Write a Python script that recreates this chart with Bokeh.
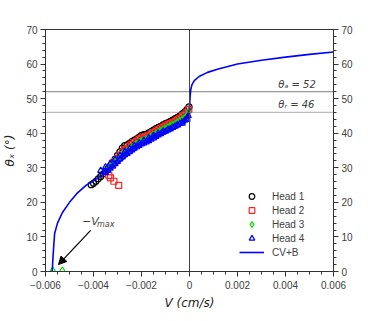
from bokeh.plotting import figure
from bokeh.models import (Range1d, LinearAxis, Span, Label, Arrow, NormalHead,
                          Legend, LegendItem, SingleIntervalTicker, FixedTicker)
from bokeh.embed import file_html
from bokeh.resources import INLINE

# ---------------- data ----------------
h1_x = [-0.00002, -0.0001, -0.0002, -0.0003, -0.0004, -0.0005, -0.0006, -0.0007, -0.0008, -0.0009,
        -0.0010, -0.0011, -0.0012, -0.0013, -0.0014, -0.0015, -0.0016, -0.0017, -0.0018, -0.0019,
        -0.0020, -0.0021, -0.0022, -0.0023, -0.0024, -0.0025, -0.0026, -0.0027, -0.0028, -0.0029,
        -0.0030, -0.0031, -0.0032, -0.0033, -0.0034, -0.0035, -0.0036, -0.0037, -0.0038, -0.0039,
        -0.0040, -0.0041]
h1_y = [47.6, 46.9, 46.2, 45.6, 45.0, 44.6, 44.2, 43.8, 43.4, 43.1,
        42.8, 42.4, 42.0, 41.7, 41.3, 40.9, 40.5, 40.1, 39.7, 39.6,
        39.4, 38.9, 38.4, 38.0, 37.6, 37.1, 36.6, 36.4, 35.7, 34.6,
        33.6, 32.5, 31.5, 30.5, 29.7, 28.9, 28.2, 27.5, 26.8, 26.1,
        25.5, 25.1]

h2_x = [-0.00003, -0.0001, -0.0002, -0.0003, -0.0004, -0.0005, -0.0006, -0.0007, -0.0008, -0.0009,
        -0.0010, -0.0011, -0.0012, -0.0013, -0.0014, -0.0015, -0.0016, -0.0017, -0.0018, -0.0019,
        -0.0020, -0.0021, -0.0022, -0.0023, -0.0024, -0.0025, -0.0026, -0.0027, -0.0028, -0.0029,
        -0.0030, -0.0031, -0.0032, -0.00336, -0.00329, -0.00315, -0.00295]
h2_y = [46.9, 46.0, 45.3, 44.8, 44.3, 43.9, 43.5, 43.1, 42.8, 42.5,
        42.1, 41.8, 41.4, 41.0, 40.6, 40.2, 39.8, 39.4, 39.0, 38.8,
        38.6, 38.2, 37.7, 37.2, 36.8, 36.2, 35.6, 35.2, 34.5, 33.6,
        32.7, 31.8, 31.0, 27.8, 27.1, 26.1, 24.9]

h3_x = [-0.00004, -0.0001, -0.0002, -0.0003, -0.0004, -0.0005, -0.0006, -0.0007, -0.0008, -0.0009,
        -0.0010, -0.0011, -0.0012, -0.0013, -0.0014, -0.0015, -0.0016, -0.0017, -0.0018, -0.0019,
        -0.0020, -0.0021, -0.0022, -0.0023, -0.0024, -0.0025, -0.0026, -0.0027, -0.0028, -0.0029,
        -0.0030, -0.0031, -0.0032, -0.0033, -0.0034, -0.0057, -0.0053]
h3_y = [46.2, 45.2, 44.5, 44.0, 43.6, 43.2, 42.8, 42.4, 42.1, 41.8,
        41.4, 41.1, 40.7, 40.3, 39.9, 39.5, 39.1, 38.7, 38.3, 38.0,
        37.8, 37.4, 37.0, 36.5, 36.0, 35.5, 35.0, 34.6, 34.0, 33.3,
        32.5, 31.7, 31.0, 30.3, 29.6, 0.3, 0.3]

h4_x = [-0.00005, -0.0001, -0.0002, -0.0003, -0.0004, -0.0005, -0.0006, -0.0007, -0.0008, -0.0009,
        -0.0010, -0.0011, -0.0012, -0.0013, -0.0014, -0.0015, -0.0016, -0.0017, -0.0018, -0.0019,
        -0.0020, -0.0021, -0.0022, -0.0023, -0.0024, -0.0025, -0.0026, -0.0027, -0.0028, -0.0029,
        -0.0030, -0.0031, -0.0032, -0.0033, -0.0034, -0.0035,
        -0.0001, -0.0003, -0.0005, -0.0007, -0.0009, -0.0011, -0.0013, -0.0015, -0.0017, -0.0019,
        -0.0021, -0.0023, -0.0025, -0.0027, -0.0029, -0.0031, -0.0033, -0.0035, -0.0037]
h4_y = [45.0, 44.3, 43.7, 43.2, 42.8, 42.4, 42.0, 41.6, 41.2, 40.9,
        40.5, 40.2, 39.8, 39.4, 39.0, 38.6, 38.2, 37.8, 37.4, 37.1,
        36.8, 36.4, 36.0, 35.6, 35.1, 34.6, 34.1, 33.7, 33.1, 32.5,
        31.8, 31.1, 30.4, 29.8, 29.2, 28.6,
        43.9, 42.8, 42.3, 41.7, 41.1, 40.6, 40.0, 39.3, 38.6, 37.9,
        37.2, 36.4, 35.5, 34.6, 33.5, 32.4, 31.3, 30.2, 29.2]

cvb_x = [-0.00572, -0.00568, -0.00562, -0.0055, -0.0053, -0.005, -0.0047, -0.0043, -0.004, -0.0035,
         -0.003, -0.0025, -0.002, -0.0015, -0.001, -0.0005, -0.0002, -0.00005, 0.0, 0.00002,
         0.00005, 0.0001, 0.0002, 0.0004, 0.00075, 0.0012, 0.002, 0.003, 0.004, 0.005, 0.006]
cvb_y = [0.0, 5.0, 11.0, 14.0, 17.0, 20.0, 22.5, 25.0, 26.3, 28.5,
         31.2, 34.0, 36.4, 38.3, 40.0, 41.7, 43.0, 45.0, 47.0, 50.0,
         52.5, 54.0, 55.2, 56.4, 57.6, 58.6, 60.0, 61.1, 62.0, 62.8, 63.5]

theta_a = 52
theta_r = 46

x_ticks = [-0.006, -0.004, -0.002, 0, 0.002, 0.004, 0.006]
x_tick_labels = ["\u22120.006", "\u22120.004", "\u22120.002", "0", "0.002", "0.004", "0.006"]
x_minor = [-0.006, -0.0055, -0.005, -0.0045, -0.004, -0.0035, -0.003, -0.0025, -0.002, -0.0015,
           -0.001, -0.0005, 0.0, 0.0005, 0.001, 0.0015, 0.002, 0.0025, 0.003, 0.0035,
           0.004, 0.0045, 0.005, 0.0055, 0.006]

# ---------------- figure ----------------
FONT = "Liberation Sans"
AX = "#333333"
TXT = "#404040"

p = figure(width=366, height=313, output_backend="svg", toolbar_location=None,
           x_range=Range1d(-0.006, 0.006), y_range=Range1d(0, 70),
           min_border_left=45, min_border_right=33, min_border_top=29, min_border_bottom=42)
p.grid.visible = False
p.outline_line_color = AX
p.outline_line_width = 1
p.background_fill_color = "white"
p.border_fill_color = "white"

def style_axis(ax):
    ax.axis_line_color = AX
    ax.major_tick_line_color = AX
    ax.minor_tick_line_color = AX
    ax.major_tick_in = 0
    ax.major_tick_out = 5
    ax.minor_tick_in = 0
    ax.minor_tick_out = 3
    ax.major_label_text_font = FONT
    ax.major_label_text_font_size = "10px"
    ax.major_label_text_color = TXT
    ax.axis_label_text_font = "DejaVu Sans"
    ax.axis_label_text_font_style = "italic"
    ax.axis_label_text_font_size = "12px"
    ax.axis_label_text_color = "#222222"

xa = p.xaxis[0]
xa.ticker = FixedTicker(ticks=x_ticks, minor_ticks=x_minor)
xa.major_label_overrides = {t: l for t, l in zip(x_ticks, x_tick_labels)}
xa.axis_label = "V (cm/s)"
xa.major_label_standoff = 4
xa.axis_label_standoff = 4
style_axis(xa)

ya = p.yaxis[0]
ya.ticker = SingleIntervalTicker(interval=10, num_minor_ticks=5)
ya.axis_label = "\u03b8\u2093 (\u00b0)"
ya.major_label_standoff = 3
ya.axis_label_standoff = 6
style_axis(ya)

ra = LinearAxis(ticker=SingleIntervalTicker(interval=10, num_minor_ticks=5))
ra.major_label_standoff = 3
style_axis(ra)
p.add_layout(ra, "right")

# reference lines
p.add_layout(Span(location=0, dimension="height", line_color="#444444", line_width=1))
p.add_layout(Span(location=theta_a, dimension="width", line_color="#000000", line_width=1,
                  line_dash="1 1"))
p.add_layout(Span(location=theta_r, dimension="width", line_color="#777777", line_width=1.3,
                  line_dash="1 1"))

# data
r1 = p.scatter(h1_x, h1_y, marker="circle", size=6, fill_color=None, line_color="black", line_width=1.2)
r2 = p.scatter(h2_x, h2_y, marker="square", size=6, fill_color=None, line_color="#ff2020", line_width=1.2)
r3 = p.scatter(h3_x, h3_y, marker="diamond", size=7, fill_color=None, line_color="#00dd00", line_width=1.2)
r4 = p.scatter(h4_x, h4_y, marker="triangle", size=6, fill_color=None, line_color="#0000ff", line_width=1.2)
r5 = p.line(cvb_x, cvb_y, line_color="#0000ff", line_width=1.6)

legend = Legend(items=[LegendItem(label="Head 1", renderers=[r1]),
                       LegendItem(label="Head 2", renderers=[r2]),
                       LegendItem(label="Head 3", renderers=[r3]),
                       LegendItem(label="Head 4", renderers=[r4]),
                       LegendItem(label="CV+B", renderers=[r5])],
                location=(194, 12), border_line_color=None, background_fill_alpha=0,
                padding=0, margin=0, spacing=0, glyph_width=25, glyph_height=14,
                label_height=14, label_standoff=8,
                label_text_font=FONT, label_text_font_size="10px", label_text_color=TXT)
p.add_layout(legend, "center")

# annotations
p.add_layout(Label(x=0.0037, y=theta_a, y_offset=2, text="\u03b8\u2090 = 52", text_baseline="bottom",
                   text_font="DejaVu Sans", text_font_style="italic", text_font_size="10px",
                   text_color=TXT))
p.add_layout(Label(x=0.0037, y=theta_r, y_offset=2, text="\u03b8\u1d63 = 46", text_baseline="bottom",
                   text_font="DejaVu Sans", text_font_style="italic", text_font_size="10px",
                   text_color=TXT))
p.add_layout(Label(x=-0.00448, y=14.5, text="\u2212V", text_align="left",
                   text_baseline="middle", text_font="DejaVu Sans", text_font_style="italic",
                   text_font_size="11px", text_color=TXT))
p.add_layout(Label(x=-0.00448, y=14.5, x_offset=15, y_offset=-3, text="max", text_align="left",
                   text_baseline="middle", text_font="DejaVu Sans", text_font_style="italic",
                   text_font_size="8px", text_color=TXT))
p.add_layout(Arrow(x_start=-0.00412, y_start=11.9, x_end=-0.00546, y_end=2.0,
                   line_color="black", line_width=1.2,
                   end=NormalHead(size=8, fill_color="black", line_color="black")))

open("out.html", "w").write(file_html(p, INLINE))
